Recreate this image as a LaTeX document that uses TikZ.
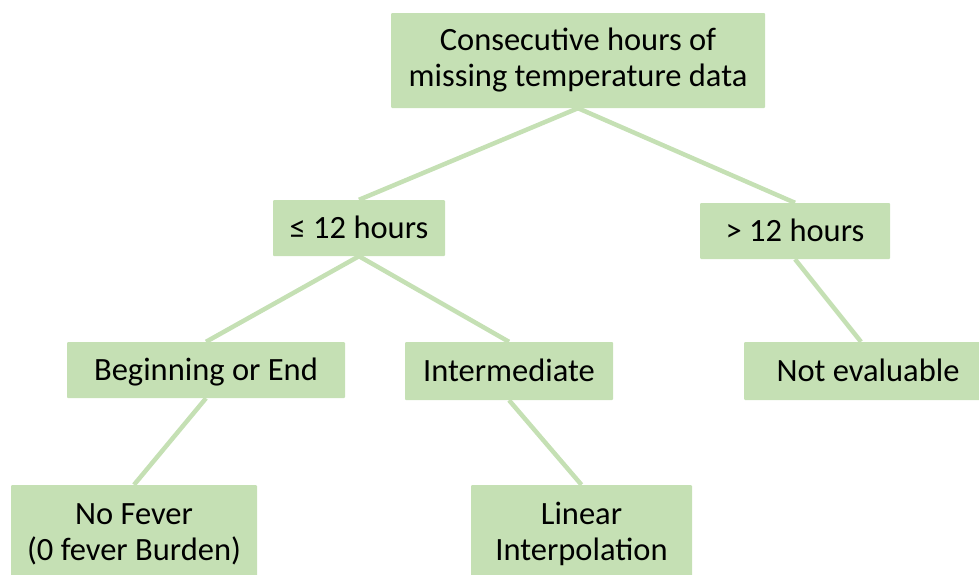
\documentclass[tikz,border=0pt]{standalone}
\usepackage{fontspec}
\setmainfont{Carlito}
\usetikzlibrary{positioning}
\definecolor{leaf}{HTML}{C5E0B4}

\begin{document}
\begin{tikzpicture}[x=1pt, y=-1pt]
	\useasboundingbox (0,0) rectangle (979,574);
	\begin{scope}
		\tikzstyle{every node}=[align=center, fill=leaf, rounded corners=1pt, inner sep=0pt, font=\fontsize{32.5}{36}\selectfont]
		\tikzstyle{oneline}=[text height=21pt, text depth=0pt]
		\tikzstyle{link}=[draw=leaf, line width=4.5pt]
		\node[minimum width=374pt, minimum height=95pt] (hours) at (578, 60.5) {Consecutive hours of\\missing temperature data};

		\node[oneline, minimum width=172pt, minimum height=56pt] (short) at (359, 228) {≤ 12 hours};
		\node[oneline, minimum width=190pt, minimum height=56pt] (long) at (795, 231) {> 12 hours};

		\node[oneline, minimum width=278pt, minimum height=56pt] (edge) at (206, 370) {Beginning or End};
		\node[oneline, minimum width=208pt, minimum height=58pt] (mid) at (509, 371) {Intermediate};
		\node[oneline, minimum width=248pt, minimum height=58pt] (noeval) at (868, 371) {Not evaluable};

		\node[minimum width=246pt, minimum height=98pt] (nofever) at (134, 534) {No Fever\\(0 fever Burden)};
		\node[minimum width=221pt, minimum height=98pt] (interp) at (581.5, 534) {Linear\\Interpolation};

		\draw [link] (hours.south) to (short.north);
		\draw [link] (hours.south) to (long.north);
		\draw [link] (short.south) to (edge.north);
		\draw [link] (short.south) to (mid.north);
		\draw [link] (long.south) to ([xshift=-7pt]noeval.north);
		\draw [link] (edge.south) to (nofever.north);
		\draw [link] (mid.south) to (interp.north);
	\end{scope}
\end{tikzpicture}
\end{document}
